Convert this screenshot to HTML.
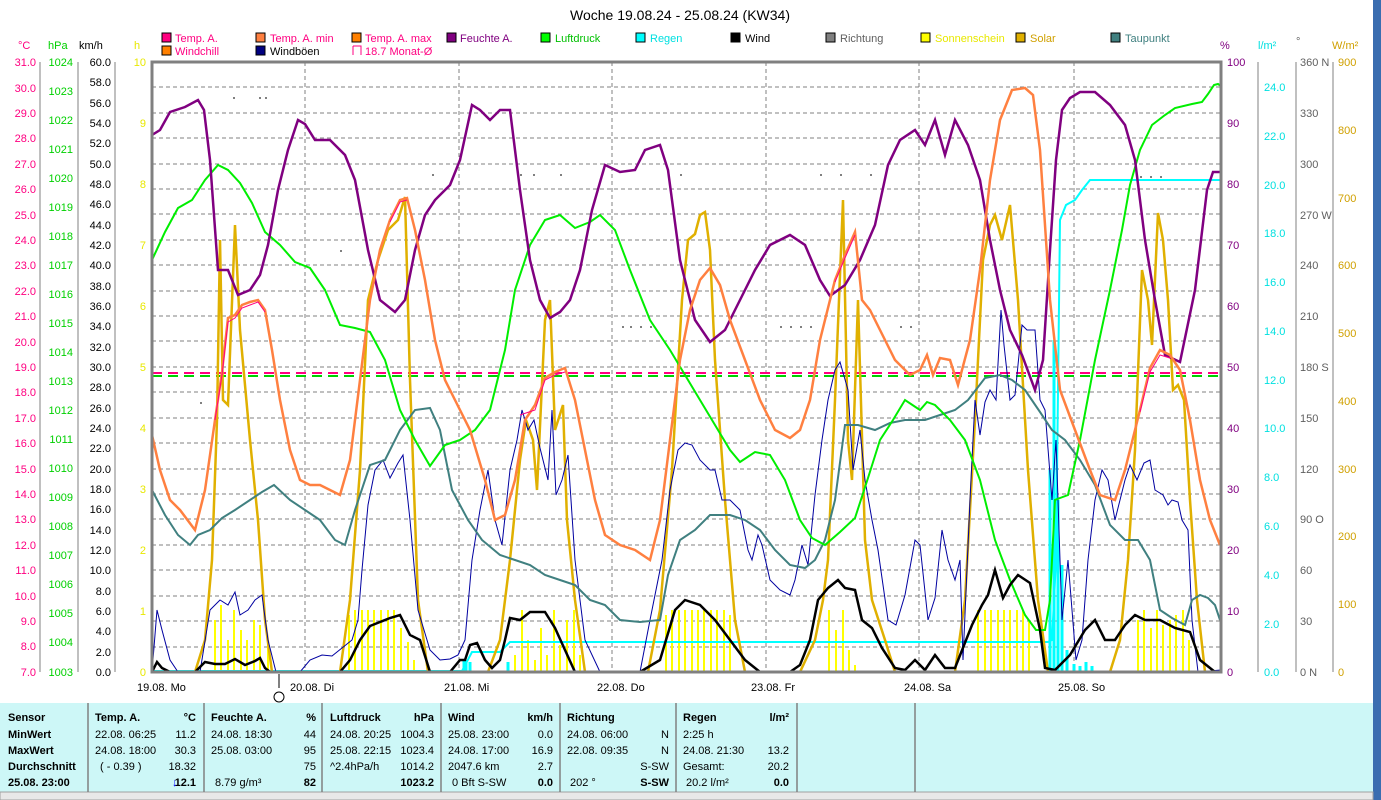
<!DOCTYPE html>
<html><head><meta charset="utf-8"><style>
html,body{margin:0;padding:0;background:#fff;width:1381px;height:800px;overflow:hidden}
svg{display:block;font-family:"Liberation Sans",sans-serif}
</style></head><body>
<svg width="1381" height="800" viewBox="0 0 1381 800" xmlns="http://www.w3.org/2000/svg">
<rect x="0" y="0" width="1381" height="800" fill="#fff"/>
<rect x="1373" y="0" width="8" height="800" fill="#3a6db0"/>
<text x="680" y="20" font-size="14" text-anchor="middle" fill="#000">Woche 19.08.24 - 25.08.24 (KW34)</text>
<!-- legend -->
<g font-size="11">
<rect x="162" y="33" width="9" height="9" fill="#ff0080" stroke="#000"/><text x="175" y="42" fill="#ff0080">Temp. A.</text>
<rect x="256" y="33" width="9" height="9" fill="#ff8040" stroke="#000"/><text x="270" y="42" fill="#ff0080">Temp. A. min</text>
<rect x="352" y="33" width="9" height="9" fill="#ff8000" stroke="#000"/><text x="365" y="42" fill="#ff0080">Temp. A. max</text>
<rect x="447" y="33" width="9" height="9" fill="#800080" stroke="#000"/><text x="460" y="42" fill="#800080">Feuchte A.</text>
<rect x="541" y="33" width="9" height="9" fill="#00ff00" stroke="#000"/><text x="555" y="42" fill="#00c000">Luftdruck</text>
<rect x="636" y="33" width="9" height="9" fill="#00ffff" stroke="#000"/><text x="650" y="42" fill="#00e0e0">Regen</text>
<rect x="731" y="33" width="9" height="9" fill="#000" stroke="#000"/><text x="745" y="42" fill="#000">Wind</text>
<rect x="826" y="33" width="9" height="9" fill="#808080" stroke="#000"/><text x="840" y="42" fill="#606060">Richtung</text>
<rect x="921" y="33" width="9" height="9" fill="#ffff00" stroke="#000"/><text x="935" y="42" fill="#e8e800">Sonnenschein</text>
<rect x="1016" y="33" width="9" height="9" fill="#e0b000" stroke="#000"/><text x="1030" y="42" fill="#d0a000">Solar</text>
<rect x="1111" y="33" width="9" height="9" fill="#408080" stroke="#000"/><text x="1125" y="42" fill="#408080">Taupunkt</text>
<rect x="162" y="46" width="9" height="9" fill="#ff8000" stroke="#000"/><text x="175" y="55" fill="#ff0080">Windchill</text>
<rect x="256" y="46" width="9" height="9" fill="#000080" stroke="#000"/><text x="270" y="55" fill="#000">Windböen</text>
<path d="M353 46V55M353 46H361V55" fill="none" stroke="#ff0080"/><text x="365" y="55" fill="#ff0080">18.7 Monat-Ø</text>
</g>
<!-- axis units -->
<g font-size="11">
<text x="18" y="49" fill="#ff0080">°C</text><text x="48" y="49" fill="#00d000">hPa</text><text x="79" y="49" fill="#000">km/h</text><text x="134" y="49" fill="#e8e800">h</text>
<text x="1220" y="49" fill="#800080">%</text><text x="1258" y="49" fill="#00e0e0">l/m²</text><text x="1296" y="45" fill="#606060">°</text><text x="1332" y="49" fill="#d0a000">W/m²</text>
</g>
<!-- left axes -->
<g stroke="#808080" stroke-width="1" fill="none">
<path d="M40 62V672M78 62V672M115 62V672M1258 62V672M1296 62V672M1333 62V672"/>
</g>
<g id="axC" font-size="11" fill="#ff0080" text-anchor="end">
<text x="36" y="66">31.0</text><text x="36" y="92">30.0</text><text x="36" y="117">29.0</text><text x="36" y="142">28.0</text><text x="36" y="168">27.0</text><text x="36" y="193">26.0</text><text x="36" y="219">25.0</text><text x="36" y="244">24.0</text><text x="36" y="269">23.0</text><text x="36" y="295">22.0</text><text x="36" y="320">21.0</text><text x="36" y="346">20.0</text><text x="36" y="371">19.0</text><text x="36" y="396">18.0</text><text x="36" y="422">17.0</text><text x="36" y="447">16.0</text><text x="36" y="473">15.0</text><text x="36" y="498">14.0</text><text x="36" y="523">13.0</text><text x="36" y="549">12.0</text><text x="36" y="574">11.0</text><text x="36" y="600">10.0</text><text x="36" y="625">9.0</text><text x="36" y="650">8.0</text><text x="36" y="676">7.0</text>
</g>
<g font-size="11" fill="#00d000" text-anchor="end">
<text x="73" y="66">1024</text><text x="73" y="95">1023</text><text x="73" y="124">1022</text><text x="73" y="153">1021</text><text x="73" y="182">1020</text><text x="73" y="211">1019</text><text x="73" y="240">1018</text><text x="73" y="269">1017</text><text x="73" y="298">1016</text><text x="73" y="327">1015</text><text x="73" y="356">1014</text><text x="73" y="385">1013</text><text x="73" y="414">1012</text><text x="73" y="443">1011</text><text x="73" y="472">1010</text><text x="73" y="501">1009</text><text x="73" y="530">1008</text><text x="73" y="559">1007</text><text x="73" y="588">1006</text><text x="73" y="617">1005</text><text x="73" y="646">1004</text><text x="73" y="676">1003</text>
</g>
<g font-size="11" fill="#000" text-anchor="end">
<text x="111" y="66">60.0</text><text x="111" y="86">58.0</text><text x="111" y="107">56.0</text><text x="111" y="127">54.0</text><text x="111" y="147">52.0</text><text x="111" y="168">50.0</text><text x="111" y="188">48.0</text><text x="111" y="208">46.0</text><text x="111" y="229">44.0</text><text x="111" y="249">42.0</text><text x="111" y="269">40.0</text><text x="111" y="290">38.0</text><text x="111" y="310">36.0</text><text x="111" y="330">34.0</text><text x="111" y="351">32.0</text><text x="111" y="371">30.0</text><text x="111" y="391">28.0</text><text x="111" y="412">26.0</text><text x="111" y="432">24.0</text><text x="111" y="452">22.0</text><text x="111" y="473">20.0</text><text x="111" y="493">18.0</text><text x="111" y="513">16.0</text><text x="111" y="534">14.0</text><text x="111" y="554">12.0</text><text x="111" y="574">10.0</text><text x="111" y="595">8.0</text><text x="111" y="615">6.0</text><text x="111" y="635">4.0</text><text x="111" y="656">2.0</text><text x="111" y="676">0.0</text>
</g>
<g font-size="11" fill="#e8e800" text-anchor="end">
<text x="146" y="66">10</text><text x="146" y="127">9</text><text x="146" y="188">8</text><text x="146" y="249">7</text><text x="146" y="310">6</text><text x="146" y="371">5</text><text x="146" y="432">4</text><text x="146" y="493">3</text><text x="146" y="554">2</text><text x="146" y="615">1</text><text x="146" y="676">0</text>
</g>
<!-- right axes -->
<g font-size="11" fill="#800080">
<text x="1227" y="66">100</text><text x="1227" y="127">90</text><text x="1227" y="188">80</text><text x="1227" y="249">70</text><text x="1227" y="310">60</text><text x="1227" y="371">50</text><text x="1227" y="432">40</text><text x="1227" y="493">30</text><text x="1227" y="554">20</text><text x="1227" y="615">10</text><text x="1227" y="676">0</text>
</g>
<g font-size="11" fill="#00e0e0">
<text x="1264" y="91">24.0</text><text x="1264" y="140">22.0</text><text x="1264" y="189">20.0</text><text x="1264" y="237">18.0</text><text x="1264" y="286">16.0</text><text x="1264" y="335">14.0</text><text x="1264" y="384">12.0</text><text x="1264" y="432">10.0</text><text x="1264" y="481">8.0</text><text x="1264" y="530">6.0</text><text x="1264" y="579">4.0</text><text x="1264" y="628">2.0</text><text x="1264" y="676">0.0</text>
</g>
<g font-size="11" fill="#606060">
<text x="1300" y="66">360 N</text><text x="1300" y="117">330</text><text x="1300" y="168">300</text><text x="1300" y="219">270 W</text><text x="1300" y="269">240</text><text x="1300" y="320">210</text><text x="1300" y="371">180 S</text><text x="1300" y="422">150</text><text x="1300" y="473">120</text><text x="1300" y="523">90 O</text><text x="1300" y="574">60</text><text x="1300" y="625">30</text><text x="1300" y="676">0 N</text>
</g>
<g font-size="11" fill="#d0a000">
<text x="1338" y="66">900</text><text x="1338" y="134">800</text><text x="1338" y="202">700</text><text x="1338" y="269">600</text><text x="1338" y="337">500</text><text x="1338" y="405">400</text><text x="1338" y="473">300</text><text x="1338" y="540">200</text><text x="1338" y="608">100</text><text x="1338" y="676">0</text>
</g>
<!-- grid -->
<g stroke="#808080" stroke-dasharray="4,3" stroke-width="1">
<path d="M152 87H1221M152 113H1221M152 138H1221M152 164H1221M152 189H1221M152 214H1221M152 240H1221M152 265H1221M152 291H1221M152 316H1221M152 341H1221M152 367H1221M152 392H1221M152 418H1221M152 443H1221M152 469H1221M152 494H1221M152 519H1221M152 545H1221M152 570H1221M152 596H1221M152 621H1221M152 647H1221"/>
<path d="M305 62V672M459 62V672M612 62V672M766 62V672M919 62V672M1074 62V672"/>
</g>
<!-- Monat avg -->
<path d="M152 373H1221" stroke="#ff0080" stroke-width="2" stroke-dasharray="10,6"/>
<path d="M152 376H1221" stroke="#00d000" stroke-width="2" stroke-dasharray="10,6"/>
<!-- sunshine bars -->
<path stroke="#ffff00" stroke-width="2" fill="none" d="M215 672V620M221 672V605M228 672V640M234 672V610M241 672V630M247 672V640M254 672V620M260 672V625M268 672V642M349 672V615M355 672V610M362 672V610M368 672V610M374 672V610M381 672V610M388 672V610M394 672V610M401 672V628M408 672V642M414 672V660M515 672V655M522 672V610M528 672V640M535 672V660M541 672V628M547 672V655M554 672V610M560 672V645M567 672V620M574 672V610M580 672V655M666 672V615M672 672V610M679 672V610M685 672V610M692 672V610M698 672V610M704 672V610M711 672V610M717 672V610M724 672V610M730 672V615M829 672V610M836 672V630M843 672V610M849 672V650M855 672V665M978 672V610M985 672V610M991 672V610M998 672V610M1004 672V610M1010 672V610M1017 672V610M1023 672V610M1029 672V620M1138 672V620M1144 672V610M1151 672V628M1157 672V610M1163 672V625M1170 672V620M1176 672V615M1183 672V610M1189 672V640"/>
<!-- rain -->
<path fill="none" stroke="#00ffff" stroke-width="2" d="M152 671H462L472 652H500L510 642H1048L1052 640L1056 560L1060 220L1066 205L1075 200L1082 190L1090 180H1221"/>
<path fill="none" stroke="#00ffff" stroke-width="3" d="M464 672V660M466 672V660M470 672V662M508 672V662M1050 672V470M1054 672V340M1058 672V500M1062 672V565M1067 672V650M1074 672V664M1080 672V666M1086 672V662M1092 672V666"/>
<!-- solar -->
<path fill="none" stroke="#e0b000" stroke-width="2.5" d="M152 672H195L205 640L212 560L217 420L220 240L223 400L228 405L235 225L240 330L250 440L258 520L265 620L272 672H340L350 600L360 470L368 300L378 260L388 230L398 220L405 197L410 380L418 600L428 672H488L500 640L510 560L520 460L526 420L533 440L537 490L545 320L550 300L555 430L563 405L567 520L575 600L585 672H648L660 610L672 470L682 300L688 240L695 234L700 215L705 212L710 250L715 360L725 500L735 620L745 672H800L815 640L823 600L828 560L835 400L843 200L848 440L852 480L858 300L865 540L872 600L885 640L895 672H955L965 600L975 420L983 260L990 225L995 215L1002 240L1010 205L1018 300L1028 470L1038 600L1048 672H1110L1120 640L1128 560L1135 450L1142 270L1148 300L1152 345L1158 213L1163 240L1168 300L1173 390L1178 385L1184 400L1190 500L1197 600L1205 672H1221"/>
<!-- gusts -->
<path fill="none" stroke="#0000a0" stroke-width="1" d="M152 672L157 610L162 630L170 660L178 672H200L210 610L220 600L228 605L235 592L240 615L248 610L255 600L262 595L268 640L276 672H300L310 660L322 655L332 656L342 648L352 640L358 620L362 570L368 505L375 470L383 460L390 478L398 463L403 455L410 520L418 610L430 650L440 660L450 659L458 655L465 640L472 560L480 510L488 470L495 520L502 545L510 470L517 440L522 410L528 430L534 420L540 448L548 480L552 410L556 495L562 480L568 455L575 560L585 640L600 672H640L650 620L662 560L670 490L678 450L685 443L692 445L700 460L710 470L715 470L722 500L730 500L740 510L748 550L752 560L758 535L762 545L770 580L780 590L790 595L795 580L802 545L808 565L815 495L822 440L828 400L835 370L840 362L848 390L853 470L860 430L865 480L872 520L878 550L888 620L896 625L905 595L915 540L920 545L928 620L935 598L942 530L948 560L955 580L960 560L963 660L970 500L975 400L980 435L985 402L990 390L996 400L1001 310L1004 345L1010 400L1015 395L1022 325L1027 330L1035 330L1040 400L1045 410L1052 500L1056 440L1062 620L1068 560L1072 610L1076 660L1082 640L1088 560L1095 500L1102 470L1108 480L1115 520L1120 500L1125 480L1130 465L1137 480L1144 463L1150 460L1155 490L1163 495L1168 505L1172 500L1178 502L1182 520L1188 530L1192 620L1198 672L1221 670"/>
<!-- dew point -->
<path fill="none" stroke="#408080" stroke-width="2" d="M152 490L165 515L178 535L190 545L198 535L210 530L222 518L235 510L250 500L262 492L274 485L290 500L305 510L320 520L335 540L345 545L355 510L370 465L385 460L400 430L415 410L430 408L440 430L452 490L468 520L482 540L500 555L515 560L530 565L545 575L560 580L575 585L590 600L605 605L620 620L640 622L660 620L668 575L680 540L695 530L710 515L730 515L745 520L760 530L775 550L790 565L805 568L815 560L825 540L835 500L845 425L858 425L875 430L890 423L905 420L925 420L940 415L955 410L968 400L985 378L1000 375L1012 380L1025 390L1040 412L1052 430L1065 440L1080 460L1095 485L1110 525L1125 540L1138 540L1150 560L1160 610L1172 618L1185 625L1192 600L1200 595L1208 598L1215 605L1220 620"/>
<!-- pressure -->
<path fill="none" stroke="#00ee00" stroke-width="2" d="M152 260L165 232L178 208L192 200L205 180L218 165L228 170L240 183L252 203L265 232L280 245L295 262L310 268L325 290L340 325L355 328L370 332L385 360L400 410L415 440L430 466L445 445L460 440L475 430L490 410L505 350L515 290L530 245L545 220L560 215L575 228L590 222L600 215L615 230L630 270L650 320L670 350L685 375L700 400L715 425L730 450L740 462L755 452L770 455L785 480L800 520L812 538L825 545L840 532L855 518L868 478L880 440L893 420L905 400L920 410L927 402L935 405L950 420L965 440L980 480L995 540L1010 580L1025 615L1036 630L1045 630L1050 600L1055 500L1060 498L1068 495L1080 440L1095 360L1110 290L1122 230L1130 185L1140 150L1152 125L1165 115L1175 108L1192 104L1202 102L1208 94L1214 85L1218 84L1221 86"/>
<!-- humidity -->
<path fill="none" stroke="#800080" stroke-width="2.5" d="M152 135L160 130L170 112L185 107L198 100L204 110L210 160L218 270L228 270L238 295L250 290L260 275L268 245L278 190L288 150L298 120L305 124L315 140L330 140L345 155L355 180L368 250L380 300L395 312L405 300L415 250L425 215L435 200L450 185L460 160L472 105L480 110L490 120L500 110L510 110L520 190L530 260L540 300L550 318L560 312L570 300L580 270L592 210L605 165L620 172L635 170L645 150L660 145L668 170L680 260L695 320L710 342L725 330L740 300L755 270L770 245L790 235L805 245L820 280L830 296L845 285L860 260L875 225L888 165L900 140L915 130L925 145L935 120L945 155L955 120L968 145L980 180L990 240L1000 290L1010 330L1022 355L1035 390L1043 360L1050 250L1056 160L1062 110L1070 98L1080 92L1095 92L1110 105L1125 125L1135 160L1145 240L1155 300L1165 355L1180 362L1195 290L1207 190L1213 172L1220 172"/>
<!-- temperature -->
<path fill="none" stroke="#ff8040" stroke-width="2.5" d="M152 435L160 470L170 500L180 510L195 530L205 490L215 420L222 372L228 318L235 315L242 305L250 302L258 300L265 310L272 350L280 400L290 450L300 480L310 485L320 485L330 490L340 495L350 460L360 380L370 300L380 250L390 220L400 200L407 198L415 230L425 280L435 340L445 380L455 400L470 430L485 480L495 520L505 515L515 480L525 420L535 405L545 378L555 372L565 368L575 400L585 450L595 500L605 535L620 545L635 550L650 560L660 520L670 440L680 360L690 310L700 280L710 268L720 285L730 320L745 360L760 400L775 430L790 438L800 430L810 400L820 340L835 280L845 255L855 232L862 300L870 310L880 330L895 360L910 375L920 370L927 355L933 375L940 358L950 360L958 385L970 340L980 270L990 180L1000 120L1012 90L1025 88L1033 95L1040 150L1050 300L1060 390L1075 430L1090 470L1100 495L1115 500L1125 470L1140 410L1150 368L1160 350L1170 355L1180 370L1190 420L1200 480L1210 520L1220 545"/>
<path fill="none" stroke="#ff0080" stroke-width="1" d="M215 420L222 375L228 322L235 318L242 308L250 305L258 302L265 312M390 222L400 202L407 200M520 415L535 410L545 380L555 375L565 372M835 282L845 258L855 235M1140 412L1150 372L1160 355L1170 358"/>
<!-- wind -->
<path fill="none" stroke="#000" stroke-width="2.5" d="M152 672L157 662L162 668L170 672H195L205 662L215 664L225 664L235 659L245 665L255 661L260 658L265 668L270 672H340L350 660L360 640L370 626L380 622L390 618L400 615L410 635L420 640L430 672H450L460 660L465 660L470 645L477 643L485 660L492 668L500 660L505 640L510 618L520 620L530 612L545 612L555 628L565 650L575 672H640L660 660L675 610L685 600L700 605L715 620L730 640L745 660L760 672H790L800 665L810 640L818 600L828 588L838 580L845 588L855 590L862 620L872 628L882 648L895 668L905 670L915 660L925 670L935 655L945 668L955 668L972 625L982 605L988 595L995 570L1003 598L1010 585L1018 575L1030 583L1040 630L1045 668L1055 670L1070 655L1085 630L1095 620L1105 640L1115 640L1125 625L1135 615L1145 620L1160 620L1175 628L1190 632L1200 660L1215 672"/>
<!-- direction dots -->
<g fill="#808080">
<rect x="233" y="97" width="2" height="2"/><rect x="259" y="97" width="2" height="2"/><rect x="265" y="97" width="2" height="2"/><rect x="432" y="174" width="2" height="2"/><rect x="520" y="174" width="2" height="2"/><rect x="533" y="174" width="2" height="2"/><rect x="560" y="174" width="2" height="2"/><rect x="680" y="174" width="2" height="2"/><rect x="622" y="326" width="2" height="2"/><rect x="630" y="326" width="2" height="2"/><rect x="640" y="326" width="2" height="2"/><rect x="650" y="326" width="2" height="2"/><rect x="780" y="326" width="2" height="2"/><rect x="790" y="326" width="2" height="2"/><rect x="800" y="326" width="2" height="2"/><rect x="810" y="326" width="2" height="2"/><rect x="900" y="326" width="2" height="2"/><rect x="910" y="326" width="2" height="2"/><rect x="820" y="174" width="2" height="2"/><rect x="840" y="174" width="2" height="2"/><rect x="870" y="174" width="2" height="2"/><rect x="1140" y="176" width="2" height="2"/><rect x="1150" y="176" width="2" height="2"/><rect x="1160" y="176" width="2" height="2"/><rect x="340" y="250" width="2" height="2"/><rect x="200" y="402" width="2" height="2"/>
</g>
<!-- frame -->
<path d="M152 62H1221V672H152Z" fill="none" stroke="#808080" stroke-width="3"/>
<!-- x labels -->
<g font-size="11" fill="#000">
<text x="137" y="691">19.08.  Mo</text><text x="290" y="691">20.08.  Di</text><text x="444" y="691">21.08.  Mi</text><text x="597" y="691">22.08.  Do</text><text x="751" y="691">23.08.  Fr</text><text x="904" y="691">24.08.  Sa</text><text x="1058" y="691">25.08.  So</text>
</g>
<path d="M279 674V688" stroke="#000"/><circle cx="279" cy="697" r="5" fill="none" stroke="#000"/>
<!-- table -->
<rect x="0" y="703" width="1373" height="89" fill="#cdf7f7"/>
<rect x="0" y="792" width="1373" height="8" fill="#e8e8e8" stroke="#a0a0a0"/>
<g stroke="#808080" stroke-width="1.5"><path d="M88 703V792M204 703V792M322 703V792M441 703V792M560 703V792M676 703V792M797 703V792M915 703V792"/></g>
<g font-size="11" fill="#000">
<g font-weight="bold"><text x="8" y="721">Sensor</text><text x="8" y="738">MinWert</text><text x="8" y="754">MaxWert</text><text x="8" y="770">Durchschnitt</text><text x="8" y="786">25.08. 23:00</text>
<text x="95" y="721">Temp. A.</text><text x="196" y="721" text-anchor="end">°C</text>
<text x="211" y="721">Feuchte A.</text><text x="316" y="721" text-anchor="end">%</text>
<text x="330" y="721">Luftdruck</text><text x="434" y="721" text-anchor="end">hPa</text>
<text x="448" y="721">Wind</text><text x="553" y="721" text-anchor="end">km/h</text>
<text x="567" y="721">Richtung</text>
<text x="683" y="721">Regen</text><text x="789" y="721" text-anchor="end">l/m²</text>
<text x="196" y="786" text-anchor="end">12.1</text><text x="316" y="786" text-anchor="end">82</text><text x="434" y="786" text-anchor="end">1023.2</text><text x="553" y="786" text-anchor="end">0.0</text><text x="669" y="786" text-anchor="end">S-SW</text><text x="789" y="786" text-anchor="end">0.0</text>
</g>
<text x="172" y="786" fill="#0000ff" font-weight="bold">↓</text>
<text x="95" y="738">22.08.  06:25</text><text x="196" y="738" text-anchor="end">11.2</text>
<text x="95" y="754">24.08.  18:00</text><text x="196" y="754" text-anchor="end">30.3</text>
<text x="100" y="770">( - 0.39 )</text><text x="196" y="770" text-anchor="end">18.32</text>
<text x="211" y="738">24.08.  18:30</text><text x="316" y="738" text-anchor="end">44</text>
<text x="211" y="754">25.08.  03:00</text><text x="316" y="754" text-anchor="end">95</text>
<text x="316" y="770" text-anchor="end">75</text><text x="215" y="786">8.79 g/m³</text>
<text x="330" y="738">24.08.  20:25</text><text x="434" y="738" text-anchor="end">1004.3</text>
<text x="330" y="754">25.08.  22:15</text><text x="434" y="754" text-anchor="end">1023.4</text>
<text x="330" y="770">^2.4hPa/h</text><text x="434" y="770" text-anchor="end">1014.2</text>
<text x="448" y="738">25.08.  23:00</text><text x="553" y="738" text-anchor="end">0.0</text>
<text x="448" y="754">24.08.  17:00</text><text x="553" y="754" text-anchor="end">16.9</text>
<text x="448" y="770">2047.6 km</text><text x="553" y="770" text-anchor="end">2.7</text>
<text x="452" y="786">0 Bft S-SW</text>
<text x="567" y="738">24.08.  06:00</text><text x="669" y="738" text-anchor="end">N</text>
<text x="567" y="754">22.08.  09:35</text><text x="669" y="754" text-anchor="end">N</text>
<text x="669" y="770" text-anchor="end">S-SW</text><text x="570" y="786">202 °</text>
<text x="683" y="738">2:25 h</text>
<text x="683" y="754">24.08.  21:30</text><text x="789" y="754" text-anchor="end">13.2</text>
<text x="683" y="770">Gesamt:</text><text x="789" y="770" text-anchor="end">20.2</text>
<text x="686" y="786">20.2 l/m²</text>
</g>
</svg>
</body></html>
